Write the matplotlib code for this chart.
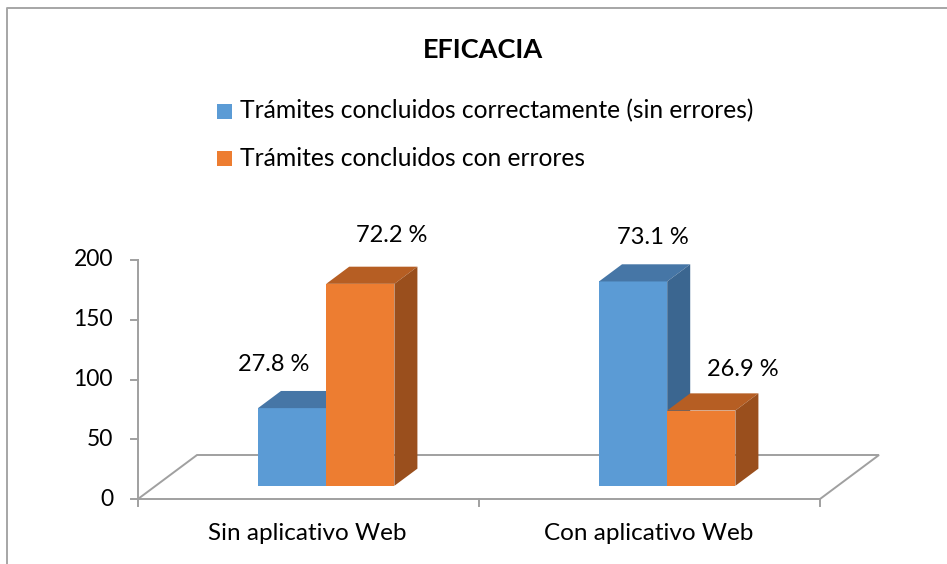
import numpy as np
import matplotlib.pyplot as plt
from matplotlib.patches import Polygon, Rectangle

# data
categories = ['Sin aplicativo Web', 'Con aplicativo Web']
series = ['Trámites concluidos correctamente (sin errores)', 'Trámites concluidos con errores']
correctos = [65, 171]
con_errores = [169, 63]
pct_labels = [['27.8 %', '73.1 %'], ['72.2 %', '26.9 %']]

plt.rcParams['font.family'] = ['Lato', 'DejaVu Sans']

W, H = 947, 564
fig = plt.figure(figsize=(W / 100, H / 100), dpi=100)

# front plane of the floor: x 138..820 px, y 499 (0) .. 260 (200)
ax = fig.add_axes([138 / W, (H - 499) / H, (820 - 138) / W, (499 - 260) / H])
ax.set_xlim(-0.5, 1.5)
ax.set_ylim(0, 200)
ax.axis('off')

gray = '#A0A0A0'
DX = 59 / 341.0          # floor depth, in category units
DY = 44 / 1.195          # floor depth, in value units
d0, d1 = 0.30, 0.69      # depth of the bars inside the floor
bw = 0.2

def pt(x, y, d):
    return (x + d * DX, y + d * DY)

# floor
floor = [pt(-0.5, 0, 0), pt(1.5, 0, 0), pt(1.5, 0, 1), pt(-0.5, 0, 1)]
ax.add_patch(Polygon(floor, closed=True, fill=False, edgecolor=gray, lw=1.4, clip_on=False))

# value axis
ax.plot([-0.5, -0.5], [0, 200], color=gray, lw=1.4, clip_on=False)
for t in range(0, 201, 50):
    ax.plot([-0.5 - 7 / 341, -0.5], [t, t], color=gray, lw=1.4, clip_on=False)
    ax.annotate(str(t), (-0.5, t), xytext=(-25, 0), textcoords='offset pixels',
                ha='right', va='center', fontsize=16.5, color='#000000')
for xt in [-0.5, 0.5, 1.5]:
    ax.plot([xt, xt], [0, -7 / 1.195], color=gray, lw=1.4, clip_on=False)
for i, c in enumerate(categories):
    ax.annotate(c, (i, 0), xytext=(-1, -35), textcoords='offset pixels',
                ha='center', va='center', fontsize=17.5)

colors = [('#5B9BD5', '#4676A6', '#3B6690'), ('#ED7D31', '#B65E23', '#9A4F1D')]
vals = [correctos, con_errores]
nudges = [[(-41, 26), (-3, 27)], [(8, 31), (19, 24)]]

for i in range(len(categories)):
    for s in range(2):
        v = vals[s][i]
        x0 = i - bw + s * bw
        x1 = x0 + bw
        front, top, side = colors[s]
        ax.add_patch(Polygon([pt(x0, 0, d0), pt(x1, 0, d0), pt(x1, v, d0), pt(x0, v, d0)],
                             closed=True, facecolor=front, edgecolor='none', clip_on=False))
        ax.add_patch(Polygon([pt(x0, v, d0), pt(x1, v, d0), pt(x1, v, d1), pt(x0, v, d1)],
                             closed=True, facecolor=top, edgecolor='none', clip_on=False))
        ax.add_patch(Polygon([pt(x1, 0, d0), pt(x1, 0, d1), pt(x1, v, d1), pt(x1, v, d0)],
                             closed=True, facecolor=side, edgecolor='none', clip_on=False))
        lx, ly = pt((x0 + x1) / 2, v, d1)
        dx, dy = nudges[s][i]
        ax.annotate(pct_labels[s][i], (lx, ly), xytext=(dx, dy), textcoords='offset pixels',
                    ha='center', va='center', fontsize=17)

# title and legend
fig.text(483 / W, 1 - 49.5 / H, 'EFICACIA', ha='center', va='center', fontsize=19.5, fontweight='bold')
for k, (name, col) in enumerate(zip(series, [colors[0][0], colors[1][0]])):
    yc = 111 + k * 47
    fig.patches.append(Rectangle((217 / W, 1 - (yc + 7.5) / H), 15 / W, 15 / H,
                                 transform=fig.transFigure, facecolor=col, edgecolor='none'))
    fig.text(240 / W, 1 - yc / H, name, ha='left', va='center', fontsize=17.7)

# chart border
fig.add_artist(plt.Line2D([7 / W, 7 / W, 1.0], [0, 1 - 8 / H, 1 - 8 / H],
                          transform=fig.transFigure, color='#A6A6A6', lw=1.4))

fig.savefig('out.png', dpi=100)
